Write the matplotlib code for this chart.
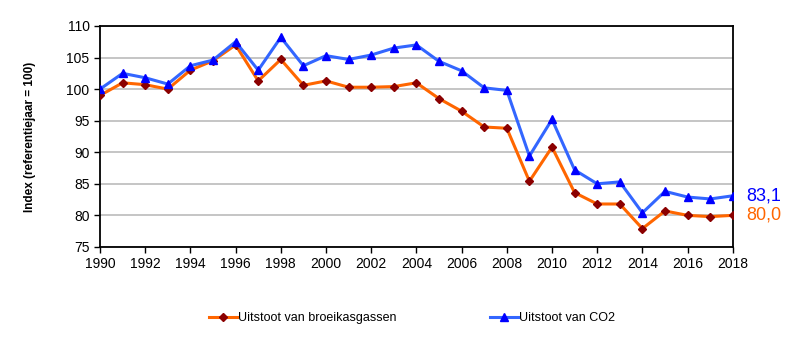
import matplotlib.pyplot as plt

plt.rcParams['font.family'] = ['Liberation Sans', 'DejaVu Sans']

years = list(range(1990, 2019))
ghg = [99.0, 101.0, 100.7, 100.0, 103.0, 104.5, 107.0, 101.3, 104.7, 100.6,
       101.3, 100.3, 100.3, 100.4, 101.0, 98.5, 96.5, 94.0, 93.8, 85.4,
       90.8, 83.6, 81.8, 81.8, 77.9, 80.7, 80.0, 79.8, 80.0]
co2 = [100.0, 102.5, 101.8, 100.8, 103.7, 104.6, 107.5, 103.0, 108.2, 103.7,
       105.3, 104.7, 105.4, 106.5, 107.0, 104.4, 102.9, 100.2, 99.8, 89.4,
       95.2, 87.2, 85.0, 85.3, 80.4, 83.8, 82.9, 82.6, 83.1]
ghg_label = 'Uitstoot van broeikasgassen'
co2_label = 'Uitstoot van CO2'

fig = plt.figure(figsize=(8, 3.42), dpi=100)
ax = fig.add_axes([0.125, 0.278, 0.791, 0.646])

ax.plot(years, ghg, color='#ff6600', lw=2.2, marker='D', ms=4,
        mfc='#8b0000', mec='#8b0000', label=ghg_label, zorder=3)
ax.plot(years, co2, color='#3366ff', lw=2.2, marker='^', ms=6,
        mfc='#0000ff', mec='#0000ff', label=co2_label, zorder=3)

ax.set_xlim(1990, 2018)
ax.set_ylim(75, 110)
ax.set_xticks(range(1990, 2019, 2))
ax.set_yticks(range(75, 111, 5))
ax.tick_params(labelsize=10, length=4, width=1, direction='out')
ax.yaxis.grid(True, color='#c0c0c0', lw=1.3)
ax.set_axisbelow(True)
for s in ax.spines.values():
    s.set_color('black')
    s.set_linewidth(1.3)

ax.set_ylabel('Index (referentiejaar = 100)', fontsize=8.5, fontweight='bold',
              labelpad=22)

ax.text(1.022, co2[-1], f'{co2[-1]:.1f}'.replace('.', ','), color='#0000ff',
        fontsize=13, va='center', transform=ax.get_yaxis_transform())
ax.text(1.022, ghg[-1], f'{ghg[-1]:.1f}'.replace('.', ','), color='#ff6600',
        fontsize=13, va='center', transform=ax.get_yaxis_transform())

fig.legend(loc='center', bbox_to_anchor=(0.515, 0.07), ncol=2, frameon=False,
           fontsize=9, columnspacing=7.5, handlelength=2.2, handletextpad=0.1)

fig.savefig('out.png', dpi=100)
